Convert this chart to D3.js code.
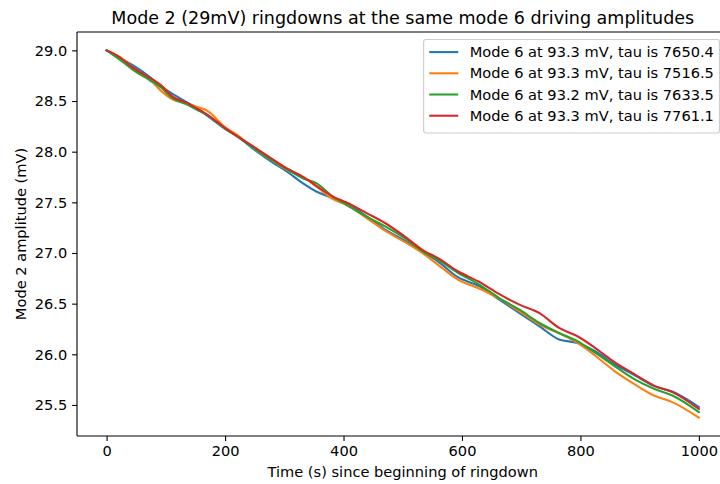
<!DOCTYPE html>
<html>
<head>
<meta charset="utf-8">
<script src="https://cdn.jsdelivr.net/npm/d3@7"></script>
<style>
  html, body { margin: 0; padding: 0; background: #fff; }
  svg { display: block; font-family: "DejaVu Sans", sans-serif; }
</style>
</head>
<body>
<svg id="chart" width="720" height="484"></svg>
<script>
// ---- data ----
const times = [0, 22, 44, 73, 92, 112, 134, 157, 171, 199, 222, 250, 278, 306, 331, 354, 382, 405,
  439, 470, 503, 537, 559, 593, 630, 663, 697, 731, 764, 795, 824, 857, 891, 925, 956, 1000];

const blueVals = [29.000, 28.926, 28.853, 28.737, 28.646, 28.567, 28.492, 28.415, 28.351, 28.230,
  28.147, 28.017, 27.902, 27.797, 27.689, 27.607, 27.542, 27.493, 27.361, 27.230, 27.122, 27.001,
  26.918, 26.761, 26.670, 26.539, 26.407, 26.276, 26.146, 26.112, 26.033, 25.903, 25.795, 25.686,
  25.630, 25.480];
const orangeVals = [29.000, 28.934, 28.833, 28.715, 28.600, 28.515, 28.479, 28.435, 28.400, 28.246,
  28.159, 28.027, 27.918, 27.815, 27.751, 27.656, 27.532, 27.476, 27.345, 27.220, 27.109, 26.984,
  26.886, 26.738, 26.647, 26.549, 26.424, 26.293, 26.207, 26.112, 25.991, 25.837, 25.706, 25.591,
  25.526, 25.375];
const greenVals = [29.000, 28.909, 28.810, 28.705, 28.633, 28.525, 28.469, 28.400, 28.356, 28.230,
  28.147, 28.027, 27.918, 27.820, 27.738, 27.689, 27.557, 27.476, 27.358, 27.263, 27.148, 27.001,
  26.935, 26.804, 26.686, 26.555, 26.440, 26.309, 26.210, 26.129, 26.018, 25.886, 25.755, 25.657,
  25.591, 25.430];
const redVals = [29.000, 28.934, 28.830, 28.728, 28.656, 28.541, 28.486, 28.410, 28.361, 28.238,
  28.147, 28.043, 27.935, 27.830, 27.754, 27.663, 27.557, 27.499, 27.394, 27.296, 27.164, 27.017,
  26.952, 26.820, 26.712, 26.594, 26.490, 26.407, 26.260, 26.178, 26.067, 25.925, 25.804, 25.689,
  25.624, 25.460];

const seriesLabels = [
  "Mode 6 at 93.3 mV, tau is 7650.4",
  "Mode 6 at 93.3 mV, tau is 7516.5",
  "Mode 6 at 93.2 mV, tau is 7633.5",
  "Mode 6 at 93.3 mV, tau is 7761.1"
];
const seriesColors = ["#1f77b4", "#ff7f0e", "#2ca02c", "#d62728"];
const xTicks = [0, 200, 400, 600, 800, 1000];
const yTicks = [25.5, 26.0, 26.5, 27.0, 27.5, 28.0, 28.5, 29.0];

const titleText = "Mode 2 (29mV) ringdowns at the same mode 6 driving amplitudes";
const xLabel = "Time (s) since beginning of ringdown";
const yLabel = "Mode 2 amplitude (mV)";

// ---- layout ----
const svg = d3.select("#chart");
const axL = 77, axT = 32, axB = 436, axR = 728.5;
const fs = 14.6;

const allVals = [].concat(blueVals, orangeVals, greenVals, redVals);
const yMin = d3.min(allVals), yMax = d3.max(allVals);
const yPad = (yMax - yMin) * 0.05;
const xMin = d3.min(times), xMax = d3.max(times);
const xPad = (xMax - xMin) * 0.05;

const x = d3.scaleLinear().domain([xMin - xPad, xMax + xPad]).range([axL, axR]);
const y = d3.scaleLinear().domain([yMin - yPad, yMax + yPad]).range([axB, axT]);

const series = [blueVals, orangeVals, greenVals, redVals].map((vals, i) => ({
  label: seriesLabels[i], color: seriesColors[i],
  points: times.map((t, j) => ({ t, v: vals[j] }))
}));

// lines
const line = d3.line().x(d => x(d.t)).y(d => y(d.v)).curve(d3.curveMonotoneX);
svg.append("g").selectAll("path").data(series).join("path")
  .attr("d", d => line(d.points))
  .attr("fill", "none")
  .attr("stroke", d => d.color)
  .attr("stroke-width", 2.08)
  .attr("stroke-linejoin", "round")
  .attr("stroke-linecap", "square");

// axes
const xAxis = d3.axisBottom(x).tickValues(xTicks).tickFormat(d3.format("d"))
  .tickSize(4.9).tickPadding(4.9);
const yAxis = d3.axisLeft(y).tickValues(yTicks).tickFormat(d3.format(".1f"))
  .tickSize(4.9).tickPadding(4.9);

const gx = svg.append("g").attr("transform", `translate(0,${axB})`).call(xAxis);
const gy = svg.append("g").attr("transform", `translate(${axL},0)`).call(yAxis);
[gx, gy].forEach(g => {
  g.select(".domain").remove();
  g.selectAll(".tick line").attr("stroke", "#000").attr("stroke-width", 1.1);
  g.selectAll(".tick text").attr("fill", "#000")
    .style("font-family", "DejaVu Sans").style("font-size", fs + "px");
});

// spines
const spine = svg.append("g").attr("fill", "none").attr("stroke", "#000").attr("stroke-width", 1.1);
spine.append("line").attr("x1", axL).attr("x2", axL).attr("y1", axT).attr("y2", axB);
spine.append("line").attr("x1", axL).attr("x2", axR).attr("y1", axB).attr("y2", axB);
spine.append("line").attr("x1", axL).attr("x2", axR).attr("y1", axT).attr("y2", axT);
spine.append("line").attr("x1", axR).attr("x2", axR).attr("y1", axT).attr("y2", axB);

// title & labels
const cx = (axL + axR) / 2;
svg.append("text").attr("x", cx).attr("y", 23.5).attr("text-anchor", "middle")
  .style("font-size", "17.5px").attr("fill", "#000").text(titleText);
svg.append("text").attr("x", cx).attr("y", 476.5).attr("text-anchor", "middle")
  .style("font-size", fs + "px").attr("fill", "#000").text(xLabel);
svg.append("text").attr("transform", `translate(26,${(axT + axB) / 2}) rotate(-90)`)
  .attr("text-anchor", "middle")
  .style("font-size", fs + "px").attr("fill", "#000").text(yLabel);

// legend
const lgRight = 719.5, lgTop = 39.5, rowH = 21.2, pad = 5.6, handleLen = 29, handlePad = 11.5;
const lg = svg.append("g");
const box = lg.append("rect");
const rows = lg.selectAll("g.row").data(series).join("g").attr("class", "row");
rows.append("text")
  .attr("dy", "0.35em")
  .style("font-size", fs + "px").attr("fill", "#000")
  .text(d => d.label);
let maxW = 0;
rows.selectAll("text").each(function() { maxW = Math.max(maxW, this.getComputedTextLength()); });
const lgW = pad + handleLen + handlePad + maxW + pad;
const lgLeft = lgRight - lgW;
const lgH = pad * 2 + rowH * series.length - 2.5;
box.attr("x", lgLeft).attr("y", lgTop).attr("width", lgW).attr("height", lgH)
  .attr("rx", 2.5).attr("fill", "#fff").attr("fill-opacity", 0.8)
  .attr("stroke", "#cccccc").attr("stroke-width", 1.1);
rows.attr("transform", (d, i) => `translate(${lgLeft + pad},${lgTop + pad + 7 + i * rowH})`);
rows.append("line").attr("x1", 0).attr("x2", handleLen).attr("y1", 0).attr("y2", 0)
  .attr("stroke", d => d.color).attr("stroke-width", 2.08);
rows.select("text").attr("x", handleLen + handlePad);
</script>
</body>
</html>
